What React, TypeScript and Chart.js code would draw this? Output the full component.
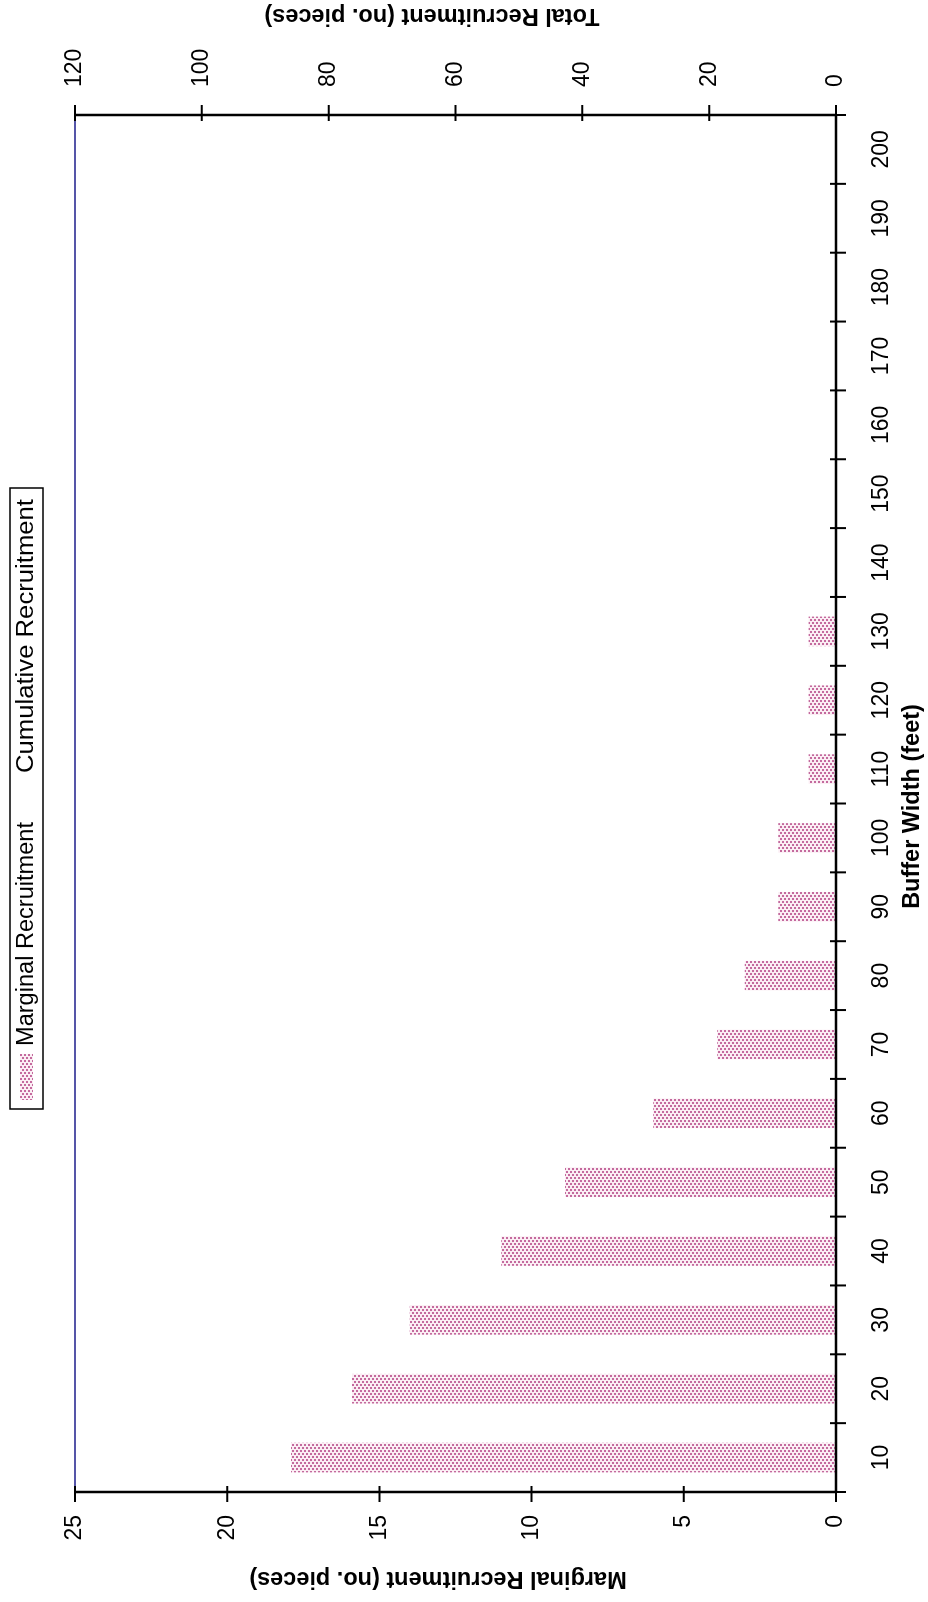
import React, { useEffect, useRef } from "react";
import { Chart, registerables } from "chart.js";

Chart.register(...registerables);

// ---- data ----
const categories = ["10", "20", "30", "40", "50", "60", "70", "80", "90", "100", "110", "120", "130", "140", "150", "160", "170", "180", "190", "200"];
const marginalRecruitment = [17.9, 15.9, 14.0, 11.0, 8.9, 6.0, 3.9, 3.0, 1.9, 1.9, 0.9, 0.9, 0.9];
const cumulativeRecruitment: (number | null)[] = [];
const seriesLabels = ["Marginal Recruitment", "Cumulative Recruitment"];
const marginalAxis = { min: 0, max: 25, step: 5 };
const totalAxis = { min: 0, max: 120, step: 20 };
const titles = {
  x: "Buffer Width (feet)",
  left: "Marginal Recruitment (no. pieces)",
  right: "Total Recruitment (no. pieces)",
};

const W = 1602;
const H = 928;
const FONT = "'Liberation Sans', Arial, Helvetica, sans-serif";

function makePattern(): CanvasPattern | string {
  const t = document.createElement("canvas");
  t.width = 6;
  t.height = 4;
  const c = t.getContext("2d");
  if (!c) return "#e0b0c8";
  c.fillStyle = "#fbeef4";
  c.fillRect(0, 0, 6, 4);
  c.fillStyle = "#c46a9e";
  c.fillRect(0, 0, 2, 2);
  c.fillRect(3, 2, 2, 2);
  const p = c.createPattern(t, "repeat");
  return p || "#e0b0c8";
}

function fitText(ctx: CanvasRenderingContext2D, text: string, x: number, y: number, width: number) {
  const m = ctx.measureText(text).width;
  const k = width / m;
  ctx.save();
  ctx.translate(x, y);
  ctx.scale(k, 1);
  ctx.fillText(text, 0, 0);
  ctx.restore();
}

export default function App() {
  const ref = useRef<HTMLCanvasElement | null>(null);

  useEffect(() => {
    const canvas = ref.current;
    if (!canvas) return;
    const pattern = makePattern();

    const decor = {
      id: "decor",
      afterDraw(chart: any) {
        const ctx = chart.ctx as CanvasRenderingContext2D;
        const a = chart.chartArea;
        const xs = chart.scales.x;
        const y = chart.scales.y;
        const y2 = chart.scales.y2;
        ctx.save();
        // plot border (navy)
        ctx.strokeStyle = "#1e1e8c";
        ctx.lineWidth = 1.5;
        ctx.strokeRect(a.left, a.top, a.right - a.left, a.bottom - a.top);
        // axis lines
        ctx.strokeStyle = "#000";
        ctx.lineWidth = 2.5;
        ctx.beginPath();
        ctx.moveTo(a.left, a.top);
        ctx.lineTo(a.left, a.bottom);
        ctx.moveTo(a.right, a.top);
        ctx.lineTo(a.right, a.bottom);
        ctx.moveTo(a.left, a.bottom);
        ctx.lineTo(a.right, a.bottom);
        ctx.stroke();
        // ticks crossing axes
        ctx.lineWidth = 2;
        ctx.beginPath();
        for (let v = marginalAxis.min; v <= marginalAxis.max; v += marginalAxis.step) {
          const py = y.getPixelForValue(v);
          ctx.moveTo(a.left - 10, py);
          ctx.lineTo(a.left + 6, py);
        }
        for (let v = totalAxis.min; v <= totalAxis.max; v += totalAxis.step) {
          const py = y2.getPixelForValue(v);
          ctx.moveTo(a.right - 6, py);
          ctx.lineTo(a.right + 10, py);
        }
        const n = categories.length;
        const cw = xs.getPixelForValue(1) - xs.getPixelForValue(0);
        for (let i = 0; i <= n; i++) {
          const px = xs.getPixelForValue(i) - cw / 2;
          ctx.moveTo(px, a.bottom - 6);
          ctx.lineTo(px, a.bottom + 10);
        }
        ctx.stroke();

        // axis titles
        ctx.fillStyle = "#000";
        ctx.font = `bold 23.5px ${FONT}`;
        ctx.textAlign = "center";
        ctx.textBaseline = "middle";
        ctx.fillText(titles.x, (a.left + a.right) / 2 - 3, 913);
        ctx.save();
        ctx.translate(24, 438);
        ctx.rotate(-Math.PI / 2);
        ctx.fillText(titles.left, 0, 0);
        ctx.restore();
        ctx.save();
        ctx.translate(1587, 432);
        ctx.rotate(-Math.PI / 2);
        ctx.fillText(titles.right, 0, 0);
        ctx.restore();

        // legend
        ctx.lineWidth = 1.5;
        ctx.strokeStyle = "#000";
        ctx.strokeRect(493, 10, 621, 33);
        ctx.fillStyle = pattern as any;
        ctx.fillRect(502, 20, 46, 13);
        ctx.fillStyle = "#000";
        ctx.font = `23px ${FONT}`;
        ctx.textAlign = "left";
        ctx.textBaseline = "middle";
        fitText(ctx, seriesLabels[0], 556, 27, 224);
        fitText(ctx, seriesLabels[1], 829, 27, 274);
        ctx.restore();
      },
    };

    const tickFont = { family: FONT, size: 23 };
    const chart = new Chart(canvas, {
      type: "bar",
      data: {
        labels: categories,
        datasets: [
          {
            type: "bar",
            label: seriesLabels[0],
            data: marginalRecruitment,
            backgroundColor: pattern as any,
            borderWidth: 0,
            yAxisID: "y",
            barPercentage: 0.43,
            categoryPercentage: 1,
          },
          {
            type: "line",
            label: seriesLabels[1],
            data: cumulativeRecruitment,
            borderColor: "#000080",
            borderWidth: 2,
            pointRadius: 0,
            yAxisID: "y2",
          },
        ],
      } as any,
      options: {
        responsive: false,
        animation: false,
        devicePixelRatio: 1,
        layout: { padding: { top: 75, left: 0, right: 0, bottom: 0 } },
        plugins: { legend: { display: false }, tooltip: { enabled: false } },
        scales: {
          x: {
            offset: true,
            grid: { display: false },
            border: { display: false },
            ticks: { font: tickFont, color: "#000", padding: 24, maxRotation: 0, minRotation: 0, autoSkip: false },
            afterFit: (s: any) => {
              s.height = 92;
            },
          },
          y: {
            position: "left",
            min: marginalAxis.min,
            max: marginalAxis.max,
            grid: { display: false },
            border: { display: false },
            ticks: { stepSize: marginalAxis.step, font: tickFont, color: "#000", padding: 15 },
            afterFit: (s: any) => {
              s.width = 110;
            },
          },
          y2: {
            position: "right",
            min: totalAxis.min,
            max: totalAxis.max,
            grid: { display: false },
            border: { display: false },
            ticks: { stepSize: totalAxis.step, font: tickFont, color: "#000", padding: 20 },
            afterFit: (s: any) => {
              s.width = 115;
            },
          },
        },
      } as any,
      plugins: [decor],
    });
    return () => chart.destroy();
  }, []);

  return (
    <div style={{ position: "absolute", left: 0, top: 0, width: 928, height: 1602, overflow: "hidden", background: "#fff" }}>
      <div
        style={{
          position: "absolute",
          left: 0,
          top: 0,
          width: W,
          height: H,
          transformOrigin: "0 0",
          transform: `translateY(${W}px) rotate(-90deg)`,
        }}
      >
        <canvas ref={ref} width={W} height={H} style={{ width: W, height: H, display: "block" }} />
      </div>
    </div>
  );
}
